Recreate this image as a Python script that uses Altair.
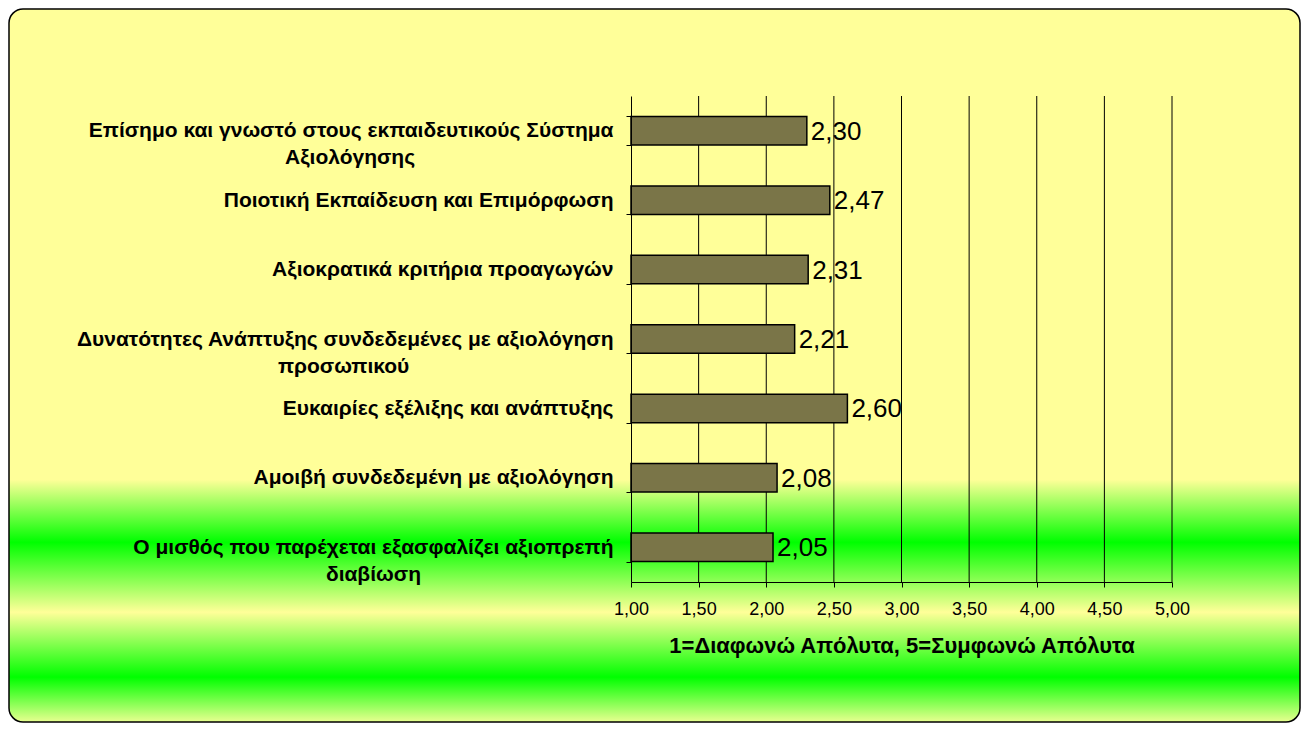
import altair as alt
import pandas as pd

categories = [
    "Επίσημο και γνωστό στους εκπαιδευτικούς Σύστημα|Αξιολόγησης",
    "Ποιοτική Εκπαίδευση και Επιμόρφωση",
    "Αξιοκρατικά κριτήρια προαγωγών",
    "Δυνατότητες Ανάπτυξης συνδεδεμένες με αξιολόγηση|προσωπικού",
    "Ευκαιρίες εξέλιξης και ανάπτυξης",
    "Αμοιβή συνδεδεμένη με αξιολόγηση",
    "Ο μισθός που παρέχεται εξασφαλίζει αξιοπρεπή|διαβίωση",
]
values = [2.30, 2.47, 2.31, 2.21, 2.60, 2.08, 2.05]
x_ticks = [1.0, 1.5, 2.0, 2.5, 3.0, 3.5, 4.0, 4.5, 5.0]
x_title = "1=Διαφωνώ Απόλυτα, 5=Συμφωνώ Απόλυτα"

df = pd.DataFrame({"cat": categories, "value": values})
df["label"] = [f"{v:.2f}".replace(".", ",") for v in values]
ticks_df = pd.DataFrame({"tick": x_ticks[1:]})

W, H = 541, 486
PL, PT = 623, 88
TOTAL_W, TOTAL_H = 1293, 715
PR, PB = TOTAL_W - PL - W, TOTAL_H - PT - H

FONT = "Liberation Sans, Arial, sans-serif"

# second lines of two-line labels get trailing non-breaking padding (plus a word joiner
# so it is not dropped) so they sit centred under the first line
second_line_pad = {categories[0]: 34, categories[3]: 35, categories[6]: 33}
expr_parts = []
for cat, n in second_line_pad.items():
    l1, l2 = cat.split("|")
    pad = "\u00a0" * n + "\u2060"
    expr_parts.append(f"datum.value === '{cat}' ? ['{l1}', '{l2}{pad}']")
label_expr = " : ".join(expr_parts) + " : datum.label"

gradient = alt.LinearGradient(
    gradient="linear", x1=0, y1=0, x2=0, y2=1,
    stops=[
        alt.GradientStop(offset=0.0, color="#FFFF99"),
        alt.GradientStop(offset=0.66, color="#FFFF99"),
        alt.GradientStop(offset=0.748, color="#00FF00"),
        alt.GradientStop(offset=0.846, color="#FFFF99"),
        alt.GradientStop(offset=0.937, color="#00FF00"),
        alt.GradientStop(offset=1.0, color="#E8FF90"),
    ],
)

bg = alt.Chart(pd.DataFrame({"k": [0]})).mark_rect(
    fill=gradient, stroke="black", strokeWidth=1.5, cornerRadius=14
).encode(
    x=alt.value(-PL + 1), x2=alt.value(W + PR - 1),
    y=alt.value(-PT + 1), y2=alt.value(H + PB - 1),
)

x_scale = alt.Scale(domain=[1, 5], nice=False, zero=False)
x_axis = alt.Axis(
    values=x_ticks,
    labelExpr="replace(format(datum.value, '.2f'), '.', ',')",
    labelFont=FONT,
    labelFontSize=18,
    labelColor="black",
    labelPadding=13,
    labelFlush=False,
    tickSize=5,
    tickColor="black",
    domainColor="black",
    grid=False,
    title=x_title,
    titleFont=FONT,
    titleFontSize=22,
    titleFontWeight="bold",
    titleColor="black",
    titlePadding=17,
    zindex=1,
)

y_scale = alt.Scale(paddingInner=0.59, paddingOuter=0.295)
y_axis = alt.Axis(
    title="",
    labelExpr=label_expr,
    labelFont=FONT,
    labelFontWeight="bold",
    labelFontSize=21,
    labelColor="black",
    labelLineHeight=27,
    labelLimit=700,
    labelAlign="right",
    labelPadding=13,
    tickBand="extent",
    tickSize=5,
    tickColor="black",
    domainColor="black",
    domainWidth=1,
    grid=False,
    zindex=1,
)

grid = alt.Chart(ticks_df).mark_rule(color="black", strokeWidth=1).encode(
    x=alt.X("tick:Q", scale=x_scale, axis=x_axis)
)

y_enc = alt.Y("cat:N", sort=categories, scale=y_scale, axis=y_axis)
x_enc = alt.X("value:Q", scale=x_scale, axis=x_axis)

bars = alt.Chart(df).mark_bar(
    color="#7A7548", stroke="black", strokeWidth=1.5
).encode(x=x_enc, x2=alt.datum(1), y=y_enc)

text = alt.Chart(df).mark_text(
    align="left", baseline="middle", dx=4, dy=1, fontSize=26, font=FONT, color="black"
).encode(x=x_enc, y=y_enc, text="label:N")

chart = alt.layer(bg, grid, bars, text).properties(
    width=W, height=H,
    padding={"left": PL, "top": PT, "right": PR, "bottom": PB},
    autosize=alt.AutoSizeParams(type="none"),
).configure_view(strokeOpacity=0).configure(background="white")

chart.save("out.html", embed_options={"renderer": "svg", "actions": False})
